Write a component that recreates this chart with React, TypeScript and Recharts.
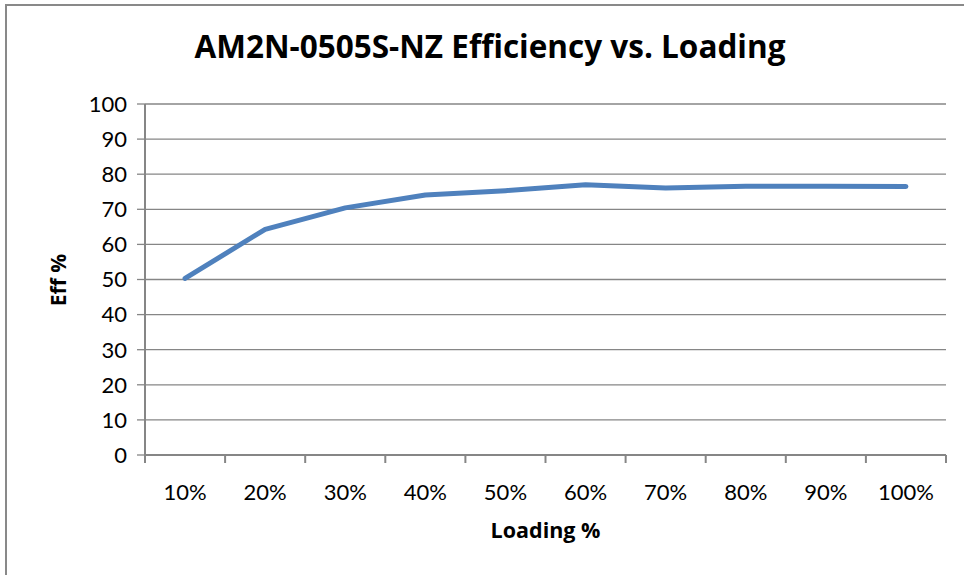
import React from 'react';
import { LineChart, Line, XAxis, YAxis, CartesianGrid } from 'recharts';

const loadings = ['10%', '20%', '30%', '40%', '50%', '60%', '70%', '80%', '90%', '100%'];
const efficiency = [50.3, 64.3, 70.4, 74.1, 75.3, 77.0, 76.1, 76.6, 76.6, 76.5];
const yTicks = [0, 10, 20, 30, 40, 50, 60, 70, 80, 90, 100];

const data = loadings.map((name, i) => ({ name, eff: efficiency[i] }));

const axisGray = '#868686';
const font = 'Lato, "Open Sans", sans-serif';
const boldFont = '"Open Sans", Lato, sans-serif';

// Excel-style category axis: tick marks sit between the categories
const XTick = (props: any) => {
  const { x, y, payload, index } = props;
  const off = payload && payload.offset ? payload.offset : 40;
  return (
    <g>
      <line x1={x - off} x2={x - off} y1={y} y2={y + 8} stroke={axisGray} strokeWidth={2} />
      {index === loadings.length - 1 && (
        <line x1={x + off} x2={x + off} y1={y} y2={y + 8} stroke={axisGray} strokeWidth={2} />
      )}
      <text x={x} y={y + 45} textAnchor="middle" fontFamily={font} fontSize={22} fill="#000">
        {payload.value}
      </text>
    </g>
  );
};

const App: React.FC = () => {
  return (
    <div style={{ position: 'absolute', left: 0, top: 0, width: 964, height: 575, overflow: 'hidden', background: '#fff' }}>
      <div
        style={{
          position: 'absolute',
          left: 5,
          top: 4,
          width: 1100,
          height: 1100,
          borderLeft: '2px solid #898989',
          borderTop: '2px solid #898989',
        }}
      />
      <div style={{ position: 'absolute', left: 0, top: 0 }}>
        <LineChart width={964} height={575} data={data} margin={{ top: 104, right: 18, bottom: 90, left: 85 }}>
          <CartesianGrid vertical={false} stroke={axisGray} strokeWidth={1.3} />
          <XAxis
            dataKey="name"
            scale="band"
            interval={0}
            tickSize={0}
            tickMargin={0}
            height={30}
            axisLine={{ stroke: axisGray, strokeWidth: 2 }}
            tick={<XTick />}
          />
          <YAxis
            domain={[0, 100]}
            ticks={yTicks}
            interval={0}
            width={60}
            tickSize={8}
            tickMargin={10}
            axisLine={{ stroke: axisGray, strokeWidth: 2 }}
            tickLine={{ stroke: axisGray, strokeWidth: 1.3 }}
            tick={{ fontFamily: font, fontSize: 22, fill: '#000' }}
          />
          <Line
            dataKey="eff"
            type="linear"
            stroke="#4F81BD"
            strokeWidth={5}
            strokeLinecap="round"
            strokeLinejoin="round"
            dot={false}
            activeDot={false}
            isAnimationActive={false}
          />
        </LineChart>
      </div>
      <svg width={964} height={575} style={{ position: 'absolute', left: 0, top: 0, pointerEvents: 'none' }}>
        <text x={490} y={58} textAnchor="middle" fontFamily={boldFont} fontWeight="bold" fontSize={31.5} fill="#000">
          AM2N-0505S-NZ Efficiency vs. Loading
        </text>
        <text x={545.5} y={538} textAnchor="middle" fontFamily={boldFont} fontWeight="bold" fontSize={21.5} fill="#000">
          Loading %
        </text>
        <text
          x={66}
          y={280}
          textAnchor="middle"
          transform="rotate(-90, 66, 280)"
          fontFamily={boldFont}
          fontWeight="bold"
          fontSize={21}
          fill="#000"
        >
          Eff %
        </text>
      </svg>
    </div>
  );
};

export default App;
